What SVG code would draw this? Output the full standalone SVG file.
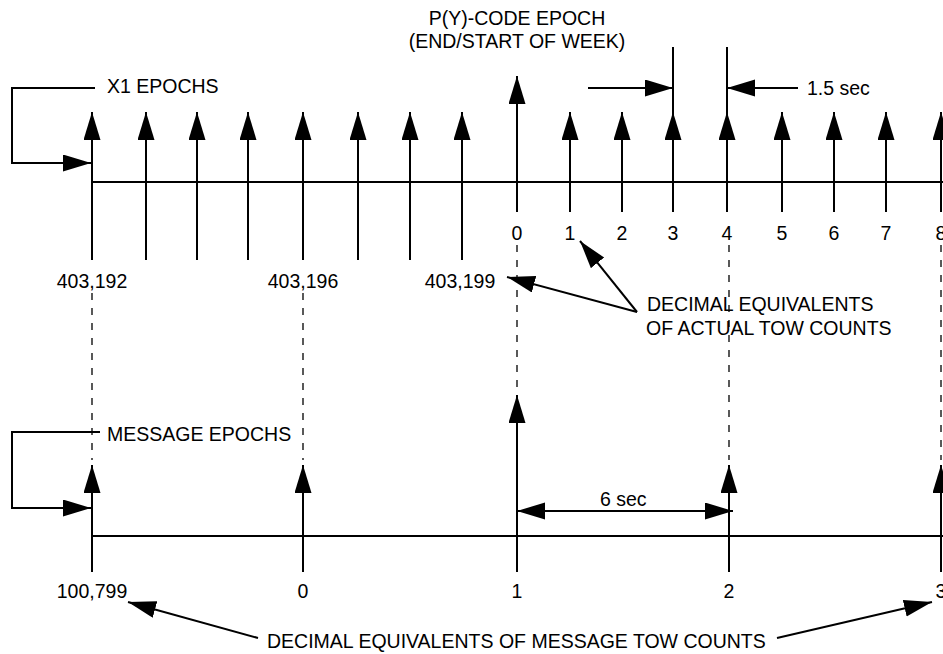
<svg xmlns="http://www.w3.org/2000/svg" width="943" height="654" viewBox="0 0 943 654">
<style>
text{font-family:"Liberation Sans",Arial,sans-serif;font-size:19.5px;fill:#000}
.m{text-anchor:middle}
.s{stroke:#000;stroke-width:2;fill:none}
.a{stroke:#000;stroke-width:2;fill:none;marker-end:url(#ah)}
.d{stroke:#000;stroke-width:1.3;fill:none;stroke-dasharray:7 8}
</style>
<defs>
<marker id="ah" markerUnits="userSpaceOnUse" markerWidth="30" markerHeight="18" refX="28" refY="8.5" orient="auto-start-reverse" viewBox="0 0 30 18">
<path d="M0,0 L28,8.5 L0,17 z" fill="#000"/>
</marker>
</defs>
<rect width="943" height="654" fill="#fff"/>
<g id="top-axis">
<line class="s" x1="92" y1="182" x2="943" y2="182"/>
</g>
<g id="x1-epochs">
<line class="a" x1="92" y1="260" x2="92" y2="112"/>
<line class="a" x1="146" y1="260" x2="146" y2="112"/>
<line class="a" x1="197" y1="260" x2="197" y2="112"/>
<line class="a" x1="248" y1="260" x2="248" y2="112"/>
<line class="a" x1="303" y1="260" x2="303" y2="112"/>
<line class="a" x1="358" y1="260" x2="358" y2="112"/>
<line class="a" x1="410" y1="260" x2="410" y2="112"/>
<line class="a" x1="462" y1="260" x2="462" y2="112"/>
<line class="a" x1="517" y1="212" x2="517" y2="76"/>
<line class="a" x1="570" y1="212" x2="570" y2="112"/>
<line class="a" x1="622" y1="212" x2="622" y2="112"/>
<line class="a" x1="673" y1="212" x2="673" y2="112"/>
<line class="a" x1="727" y1="212" x2="727" y2="112"/>
<line class="a" x1="782" y1="212" x2="782" y2="112"/>
<line class="a" x1="834" y1="212" x2="834" y2="112"/>
<line class="a" x1="886" y1="212" x2="886" y2="112"/>
<line class="a" x1="941" y1="212" x2="941" y2="112"/>
<line class="s" x1="673" y1="47" x2="673" y2="112"/>
<line class="s" x1="727" y1="47" x2="727" y2="112"/>
</g>
<g id="top-labels">
<text class="m" x="517" y="25">P(Y)-CODE EPOCH</text>
<text class="m" x="517" y="48">(END/START OF WEEK)</text>
<text x="107" y="93">X1 EPOCHS</text>
<text x="807" y="95">1.5 sec</text>
<text class="m" x="517" y="240">0</text>
<text class="m" x="570" y="240">1</text>
<text class="m" x="622" y="240">2</text>
<text class="m" x="673" y="240">3</text>
<text class="m" x="727" y="240">4</text>
<text class="m" x="782" y="240">5</text>
<text class="m" x="834" y="240">6</text>
<text class="m" x="886" y="240">7</text>
<text class="m" x="941" y="240">8</text>
<text class="m" x="92" y="288">403,192</text>
<text class="m" x="303" y="288">403,196</text>
<text class="m" x="460" y="288">403,199</text>
<text x="647" y="311">DECIMAL EQUIVALENTS</text>
<text x="646" y="335">OF ACTUAL TOW COUNTS</text>
</g>
<g id="bottom-axis">
<line class="s" x1="92" y1="536" x2="943" y2="536"/>
</g>
<g id="message-epochs">
<line class="a" x1="92" y1="572" x2="92" y2="465"/>
<line class="a" x1="303" y1="572" x2="303" y2="465"/>
<line class="a" x1="517" y1="572" x2="517" y2="395"/>
<line class="a" x1="729" y1="572" x2="729" y2="465"/>
<line class="a" x1="941" y1="572" x2="941" y2="465"/>
</g>
<g id="bottom-labels">
<text x="107" y="441">MESSAGE EPOCHS</text>
<text x="600" y="506">6 sec</text>
<text class="m" x="92" y="598">100,799</text>
<text class="m" x="303" y="598">0</text>
<text class="m" x="517" y="598">1</text>
<text class="m" x="729" y="598">2</text>
<text class="m" x="941" y="598">3</text>
<text x="267" y="648">DECIMAL EQUIVALENTS OF MESSAGE TOW COUNTS</text>
</g>
<g id="connectors">
<polyline class="a" points="95,88 12,88 12,163 91,163"/>
<polyline class="a" points="100,432 12,432 12,508 91,508"/>
<line class="a" x1="588" y1="88" x2="673" y2="88"/>
<line class="a" x1="798" y1="88" x2="727" y2="88"/>
<line class="a" x1="637" y1="312" x2="507" y2="277"/>
<line class="a" x1="637" y1="312" x2="580" y2="241"/>
<line class="a" x1="258" y1="638" x2="128" y2="602"/>
<line class="a" x1="777" y1="638" x2="932" y2="602"/>
<line class="a" x1="733" y1="511" x2="517" y2="511" style="marker-start:url(#ah)"/>
<line class="d" x1="92" y1="293" x2="92" y2="460"/>
<line class="d" x1="303" y1="293" x2="303" y2="460"/>
<line class="d" x1="517" y1="245" x2="517" y2="392"/>
<line class="d" x1="729" y1="245" x2="729" y2="460"/>
<line class="d" x1="941" y1="245" x2="941" y2="460"/>
</g>
</svg>
